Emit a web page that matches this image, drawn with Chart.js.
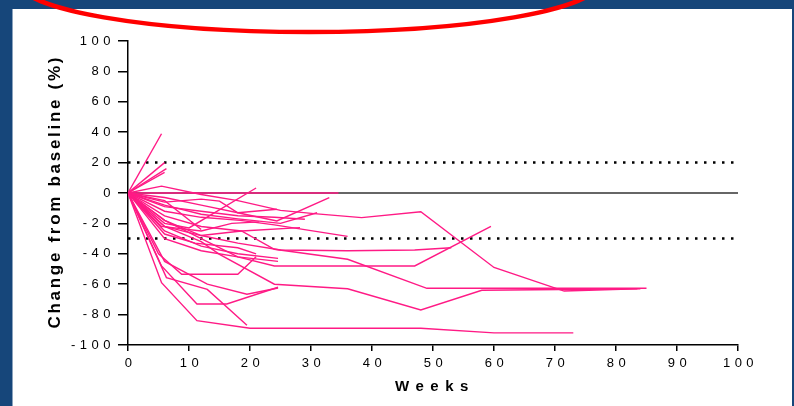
<!DOCTYPE html>
<html>
<head>
<meta charset="utf-8">
<script src="https://cdn.jsdelivr.net/npm/chart.js@4.4.0/dist/chart.umd.min.js"></script>
<style>
  html, body { margin: 0; padding: 0; background: #16467a; }
  canvas { display: block; }
</style>
</head>
<body>
<canvas id="chart" width="794" height="406"></canvas>
<script>
// tick labels
const xTicks = [0, 10, 20, 30, 40, 50, 60, 70, 80, 90, 100];
const yTicks = [-100, -80, -60, -40, -20, 0, 20, 40, 60, 80, 100];

// reference lines (% change)
const refZero = 0;
const refUpper = 20;
const refLower = -30;

// one entry per patient: weeks on study and % change from baseline
const patientWeeks = [
  [0, 5.5],
  [0, 6],
  [0, 6.3],
  [0, 6],
  [0, 12, 24, 34.5],
  [0, 5.5, 12, 18, 25, 30.5, 38.3, 48, 60, 71.5, 83.5],
  [0, 6, 10, 21],
  [0, 6, 12, 15, 18, 24.4, 33],
  [0, 6, 12, 18, 24.4],
  [0, 6, 12, 18, 24, 29],
  [0, 6, 12, 18.4, 24, 36],
  [0, 6, 12, 18, 25, 36, 47, 53],
  [0, 6, 12, 18.6, 24, 36, 49, 85],
  [0, 6, 12, 15, 24, 36, 48, 58, 84],
  [0, 6, 12, 18, 24, 47, 59.5],
  [0, 5.5, 11.3, 20, 48, 60, 73],
  [0, 6.3, 13, 19.5],
  [0, 5.5, 11.3, 16.2, 24.6],
  [0, 6, 13, 19.5, 24.6],
  [0, 5, 8.8, 18, 21],
  [0, 6, 12, 18, 24.6],
  [0, 6, 12, 18, 24.6],
  [0, 5.5, 12, 17, 21.5],
  [0, 6, 11, 18, 21],
  [0, 6, 12],
  [0, 6, 12, 18, 25, 31],
  [0, 6, 12, 18.6, 28.2]
];
const patientChange = [
  [0, 39],
  [0, 20],
  [0, 16],
  [0, 13.5],
  [0, 0, 0, 0],
  [0, 4.5, -1, -5, -11.4, -13.6, -16.2, -12.3, -49, -64.5, -63],
  [0, -20, -23, 3.3],
  [0, -6, -4, -5.3, -13, -18.4, -3],
  [0, -3, -8, -13, -10.7],
  [0, -9, -12, -15, -16, -17.3],
  [0, -12, -16, -18, -21, -28.5],
  [0, -22, -28, -33, -37.5, -38, -37.5, -36],
  [0, -15, -22, -25, -37, -43.6, -62.7, -62.7],
  [0, -22, -32, -40.4, -60, -63, -77, -64, -63],
  [0, -18, -30, -42, -48, -48, -22],
  [0, -59, -84, -89, -89, -92, -92],
  [0, -55.7, -63.4, -87],
  [0, -48, -73, -73, -62],
  [0, -45, -60, -66.6, -62.5],
  [0, -40, -53.5, -53.5, -42],
  [0, -25, -35, -40, -43],
  [0, -30, -38, -42, -45],
  [0, -22, -25, -20, -19],
  [0, -27, -33, -36, -40],
  [0, -5, -24],
  [0, -8, -14, -17, -20, -13],
  [0, -18, -28, -25, -22.8]
];

const PINK = '#ff1a85';
const NAVY = '#16467a';
const FONT = '"Liberation Sans", Arial, Helvetica, sans-serif';
const TICK_SPACING = 4.5;

const patientSets = patientWeeks.map((weeks, i) => ({
  label: 'Patient ' + (i + 1),
  data: weeks.map((w, j) => ({ x: w, y: patientChange[i][j] })),
  borderColor: PINK,
  borderWidth: 1.4,
  pointRadius: 0,
  fill: false,
  tension: 0
}));

const refLine = (value, color, width, dash) => ({
  label: 'ref ' + value,
  data: [{ x: xTicks[0], y: value }, { x: xTicks[xTicks.length - 1], y: value }],
  borderColor: color,
  borderWidth: width,
  borderDash: dash,
  borderCapStyle: 'butt',
  pointRadius: 0,
  fill: false
});

// navy frame, titles and the red marker ellipse
const framePlugin = {
  id: 'frame',
  beforeUpdate(chart) {
    chart.ctx.letterSpacing = TICK_SPACING + 'px';
  },
  beforeDraw(chart) {
    const c = chart.ctx;
    c.save();
    c.fillStyle = NAVY;
    c.fillRect(0, 0, chart.width, chart.height);
    c.fillStyle = '#ffffff';
    c.fillRect(12.5, 9, 779.5, chart.height - 9);
    c.restore();
    c.letterSpacing = TICK_SPACING + 'px';
  },
  afterDraw(chart) {
    const c = chart.ctx;
    const { left, right, top, bottom } = chart.chartArea;
    c.save();
    c.fillStyle = '#000';
    c.textAlign = 'center';
    c.textBaseline = 'middle';
    c.font = 'bold 15px ' + FONT;
    c.letterSpacing = '6.5px';
    c.fillText('Weeks', (left + right) / 2 + 2, 387);
    c.translate(60, (top + bottom) / 2);
    c.rotate(-Math.PI / 2);
    c.textBaseline = 'alphabetic';
    c.font = 'bold 17px ' + FONT;
    c.letterSpacing = '2.7px';
    c.fillText('Change from baseline (%)', 1.3, 0);
    c.restore();

    c.save();
    c.strokeStyle = '#ff0000';
    c.lineWidth = 4.5;
    c.beginPath();
    c.ellipse(309, -18, 290, 50, 0, 0, Math.PI * 2);
    c.stroke();
    c.restore();
  }
};

new Chart(document.getElementById('chart'), {
  type: 'line',
  data: {
    datasets: [
      ...patientSets,
      refLine(refZero, '#333333', 1.6, []),
      refLine(refUpper, '#000000', 2.5, [2.5, 6.5]),
      refLine(refLower, '#000000', 2.5, [2.5, 6.5])
    ]
  },
  options: {
    responsive: false,
    animation: false,
    devicePixelRatio: 1,
    layout: { padding: { left: 70, right: 56, top: 41, bottom: 0 } },
    plugins: { legend: { display: false }, tooltip: { enabled: false } },
    scales: {
      x: {
        type: 'linear',
        min: 0,
        max: 100,
        afterBuildTicks: (s) => { s.ticks = xTicks.map(v => ({ value: v })); },
        afterFit: (s) => { s.height = 61; },
        grid: { drawOnChartArea: false, drawTicks: true, tickLength: 6, color: '#000', lineWidth: 1.5 },
        border: { display: true, color: '#000', width: 1.5 },
        ticks: { color: '#000', font: { family: FONT, size: 13 }, padding: 5, labelOffset: 2.5, maxRotation: 0, autoSkip: false }
      },
      y: {
        type: 'linear',
        min: -100,
        max: 100,
        afterBuildTicks: (s) => { s.ticks = yTicks.map(v => ({ value: v })); },
        afterFit: (s) => { s.width = 58; },
        grid: { drawOnChartArea: false, drawTicks: true, tickLength: 10, color: '#000', lineWidth: 1.5 },
        border: { display: true, color: '#000', width: 1.5 },
        ticks: { color: '#000', font: { family: FONT, size: 13 }, padding: 3, autoSkip: false }
      }
    }
  },
  plugins: [framePlugin]
});
</script>
</body>
</html>
